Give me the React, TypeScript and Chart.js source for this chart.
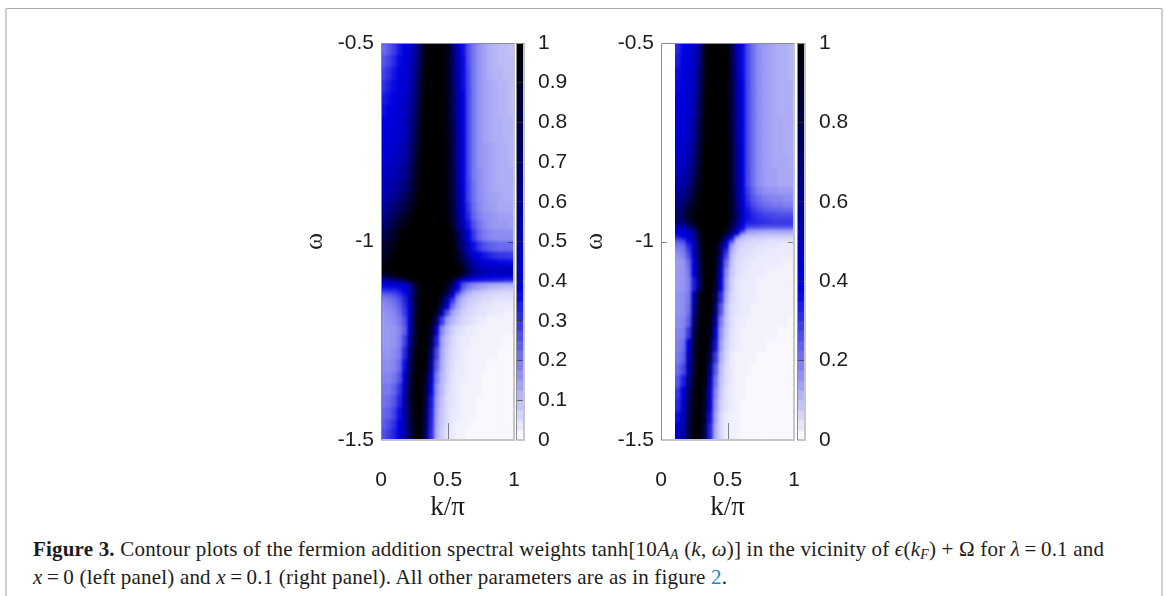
import React, { useEffect, useRef } from "react";
import { Chart, registerables } from "chart.js";

Chart.register(...registerables);

const kLeft = [0.02, 0.06, 0.1, 0.14, 0.18, 0.22, 0.26, 0.3, 0.34, 0.38, 0.42, 0.46, 0.5, 0.54, 0.58, 0.62, 0.66, 0.7, 0.74, 0.78, 0.82, 0.86, 0.9, 0.94, 0.98];
const kRight = [0.1285, 0.169, 0.2095, 0.25, 0.2905, 0.331, 0.3715, 0.412, 0.4525, 0.493, 0.5335, 0.574, 0.6145, 0.655, 0.6955, 0.736, 0.7765, 0.817, 0.8575, 0.898, 0.9385, 0.979];
const omegaLeft = [-0.5, -0.531, -0.562, -0.594, -0.625, -0.656, -0.688, -0.719, -0.751, -0.782, -0.814, -0.845, -0.877, -0.902, -0.927, -0.948, -0.97, -1.0, -1.026, -1.046, -1.061, -1.073, -1.083, -1.093, -1.103, -1.113, -1.123, -1.133, -1.143, -1.156, -1.172, -1.189, -1.212, -1.237, -1.267, -1.298, -1.328, -1.358, -1.388, -1.419, -1.449, -1.474, -1.5];
const omegaRight = [-0.5, -0.531, -0.562, -0.594, -0.625, -0.656, -0.688, -0.719, -0.751, -0.782, -0.814, -0.839, -0.864, -0.883, -0.902, -0.915, -0.927, -0.938, -0.948, -0.96, -0.97, -0.978, -0.985, -0.993, -1.0, -1.008, -1.018, -1.031, -1.046, -1.066, -1.091, -1.126, -1.156, -1.187, -1.217, -1.247, -1.278, -1.308, -1.338, -1.368, -1.398, -1.429, -1.459, -1.5];

// tanh[10 A_A(k, w)], in percent, one row per omega band
const weightsLeft = [
  [22, 25, 29, 35, 39, 44, 56, 78, 96, 100, 100, 100, 93, 72, 50, 36, 26, 20, 16, 14, 12, 11, 10, 10, 9],
  [25, 28, 32, 37, 41, 46, 59, 81, 97, 100, 100, 100, 93, 73, 51, 37, 26, 20, 16, 14, 12, 11, 10, 10, 10],
  [28, 31, 35, 38, 42, 48, 62, 84, 98, 100, 100, 100, 93, 74, 52, 37, 27, 20, 16, 14, 12, 11, 11, 10, 10],
  [31, 34, 37, 40, 44, 50, 65, 87, 98, 100, 100, 100, 93, 75, 52, 37, 27, 20, 16, 14, 13, 12, 11, 11, 10],
  [34, 36, 39, 41, 46, 53, 68, 89, 99, 100, 100, 100, 94, 76, 53, 38, 27, 20, 16, 14, 13, 12, 11, 11, 10],
  [36, 38, 40, 42, 47, 56, 71, 91, 99, 100, 100, 100, 94, 77, 54, 38, 27, 20, 16, 14, 13, 12, 11, 11, 10],
  [38, 39, 41, 43, 49, 59, 74, 93, 100, 100, 100, 100, 94, 78, 55, 38, 27, 20, 16, 14, 13, 12, 12, 11, 11],
  [39, 40, 42, 45, 51, 62, 78, 94, 100, 100, 100, 100, 95, 79, 56, 38, 27, 20, 16, 14, 13, 12, 12, 11, 11],
  [41, 42, 44, 47, 53, 66, 81, 96, 100, 100, 100, 100, 95, 80, 56, 38, 27, 20, 16, 15, 14, 13, 12, 12, 11],
  [43, 45, 47, 50, 56, 69, 84, 97, 100, 100, 100, 100, 95, 81, 57, 38, 27, 20, 16, 15, 14, 13, 12, 12, 11],
  [46, 48, 51, 55, 60, 73, 87, 98, 100, 100, 100, 100, 95, 82, 58, 39, 27, 20, 17, 15, 14, 13, 12, 12, 12],
  [49, 52, 56, 60, 66, 78, 90, 99, 100, 100, 100, 100, 96, 82, 59, 40, 28, 21, 17, 15, 14, 13, 12, 12, 12],
  [53, 56, 61, 67, 74, 84, 93, 100, 100, 100, 100, 100, 96, 83, 60, 41, 28, 21, 17, 16, 14, 14, 13, 12, 12],
  [58, 62, 68, 75, 82, 90, 96, 100, 100, 100, 100, 100, 96, 84, 62, 42, 30, 22, 18, 16, 15, 14, 13, 13, 13],
  [63, 68, 75, 83, 90, 95, 99, 100, 100, 100, 100, 100, 97, 86, 65, 44, 32, 23, 19, 17, 16, 15, 14, 14, 14],
  [70, 75, 82, 90, 95, 99, 100, 100, 100, 100, 100, 100, 98, 88, 68, 48, 35, 26, 21, 18, 16, 15, 15, 15, 14],
  [78, 83, 90, 96, 99, 100, 100, 100, 100, 100, 100, 100, 100, 96, 78, 58, 40, 30, 23, 20, 18, 17, 17, 17, 17],
  [85, 90, 96, 99, 100, 100, 100, 100, 100, 100, 100, 100, 100, 98, 84, 65, 47, 36, 30, 26, 24, 23, 22, 22, 22],
  [90, 94, 98, 100, 100, 100, 100, 100, 100, 100, 100, 100, 100, 99, 90, 74, 56, 43, 38, 35, 33, 31, 30, 30, 29],
  [94, 97, 99, 100, 100, 100, 100, 100, 100, 100, 100, 100, 100, 100, 94, 82, 66, 52, 44, 41, 39, 38, 37, 37, 37],
  [96, 98, 100, 100, 100, 100, 100, 100, 100, 100, 100, 100, 100, 100, 98, 90, 72, 58, 50, 47, 46, 46, 46, 46, 46],
  [95, 97, 99, 100, 100, 100, 100, 100, 100, 100, 100, 100, 100, 100, 98, 92, 78, 66, 58, 54, 51, 50, 50, 50, 50],
  [82, 86, 92, 97, 100, 100, 100, 100, 100, 100, 100, 100, 100, 100, 96, 78, 58, 47, 44, 42, 41, 41, 40, 40, 40],
  [58, 60, 64, 72, 82, 92, 98, 100, 100, 100, 100, 100, 100, 90, 62, 42, 38, 37, 36, 35, 35, 34, 34, 33, 33],
  [40, 40, 41, 43, 46, 62, 88, 98, 100, 100, 100, 98, 92, 70, 40, 27, 21, 18, 16, 15, 14, 14, 13, 13, 13],
  [35, 36, 36, 37, 40, 55, 85, 98, 100, 100, 100, 98, 90, 65, 40, 25, 19, 16, 14, 12, 11, 10, 10, 9, 9],
  [28, 29, 30, 33, 38, 50, 80, 97, 100, 100, 100, 96, 82, 52, 32, 18, 13, 10, 9, 8, 7, 7, 6, 6, 6],
  [22, 23, 25, 29, 34, 55, 85, 99, 100, 100, 100, 90, 66, 38, 20, 13, 10, 8, 7, 6, 6, 5, 5, 5, 5],
  [19, 20, 22, 26, 33, 52, 84, 99, 100, 100, 99, 84, 54, 30, 16, 10, 8, 7, 6, 5, 5, 4, 4, 4, 4],
  [17, 18, 20, 24, 31, 48, 84, 99, 100, 100, 98, 72, 40, 22, 13, 9, 7, 6, 5, 4, 4, 3, 3, 3, 3],
  [16, 17, 18, 22, 29, 46, 86, 99, 100, 100, 90, 52, 26, 14, 10, 7, 6, 5, 4, 4, 3, 3, 3, 2, 2],
  [15, 16, 17, 20, 26, 46, 90, 100, 100, 98, 68, 30, 15, 11, 8, 6, 5, 4, 3, 3, 2, 2, 2, 2, 2],
  [15, 15, 16, 18, 24, 48, 88, 100, 100, 88, 46, 18, 11, 7, 5, 4, 3, 3, 2, 2, 2, 2, 2, 2, 2],
  [15, 15, 16, 19, 28, 56, 92, 100, 99, 80, 34, 14, 9, 6, 4, 3, 3, 2, 2, 2, 2, 2, 2, 1, 1],
  [16, 16, 17, 20, 32, 66, 95, 100, 98, 70, 28, 13, 8, 5, 4, 3, 2, 2, 2, 2, 2, 2, 1, 1, 1],
  [17, 17, 18, 22, 36, 74, 97, 100, 95, 58, 24, 12, 7, 5, 3, 3, 2, 2, 2, 2, 1, 1, 1, 1, 1],
  [18, 18, 20, 25, 42, 80, 98, 100, 90, 46, 20, 11, 7, 4, 3, 3, 2, 2, 2, 1, 1, 1, 1, 1, 1],
  [20, 20, 23, 30, 48, 84, 99, 100, 84, 38, 17, 10, 6, 4, 3, 2, 2, 2, 2, 1, 1, 1, 1, 1, 1],
  [21, 22, 25, 33, 52, 84, 99, 100, 78, 35, 15, 9, 5, 4, 3, 2, 2, 2, 1, 1, 1, 1, 1, 1, 1],
  [23, 24, 28, 36, 53, 82, 99, 99, 74, 34, 14, 8, 5, 3, 3, 2, 2, 2, 1, 1, 1, 1, 1, 1, 1],
  [24, 27, 31, 38, 54, 78, 98, 99, 72, 33, 13, 8, 5, 3, 2, 2, 2, 1, 1, 1, 1, 1, 1, 1, 1],
  [26, 29, 33, 40, 55, 76, 97, 98, 70, 32, 12, 7, 4, 3, 2, 2, 1, 1, 1, 1, 1, 1, 1, 1, 1],
];

// the same
const weightsRight = [
  [32, 38, 41, 45, 62, 92, 100, 100, 100, 99, 82, 52, 37, 27, 21, 17, 15, 14, 13, 12, 12, 11],
  [34, 39, 41, 46, 64, 93, 100, 100, 100, 99, 82, 53, 37, 27, 21, 17, 15, 14, 13, 12, 12, 11],
  [36, 40, 42, 47, 67, 94, 100, 100, 100, 99, 83, 54, 37, 27, 21, 17, 15, 14, 13, 12, 12, 11],
  [37, 40, 43, 49, 70, 95, 100, 100, 100, 99, 83, 55, 38, 27, 21, 17, 15, 14, 13, 12, 12, 12],
  [38, 41, 43, 51, 73, 96, 100, 100, 100, 99, 84, 56, 38, 27, 21, 17, 15, 14, 13, 12, 12, 12],
  [39, 41, 44, 54, 76, 97, 100, 100, 100, 99, 84, 57, 38, 27, 21, 17, 15, 14, 13, 12, 12, 12],
  [40, 42, 45, 57, 79, 98, 100, 100, 100, 99, 85, 58, 39, 27, 21, 17, 15, 14, 13, 13, 12, 12],
  [41, 42, 46, 60, 82, 98, 100, 100, 100, 99, 85, 59, 39, 27, 21, 17, 15, 14, 13, 13, 12, 12],
  [42, 44, 48, 63, 85, 99, 100, 100, 100, 99, 86, 60, 39, 27, 21, 17, 15, 14, 13, 13, 12, 12],
  [45, 47, 52, 68, 88, 99, 100, 100, 100, 99, 86, 60, 39, 27, 21, 17, 15, 14, 13, 13, 13, 12],
  [48, 51, 57, 74, 91, 100, 100, 100, 100, 99, 86, 60, 39, 27, 21, 17, 15, 14, 14, 13, 13, 13],
  [52, 55, 62, 80, 93, 100, 100, 100, 100, 99, 87, 61, 40, 27, 21, 17, 15, 14, 14, 13, 13, 13],
  [56, 60, 69, 86, 96, 100, 100, 100, 100, 99, 88, 62, 41, 29, 23, 19, 17, 16, 16, 15, 15, 15],
  [60, 65, 75, 90, 97, 100, 100, 100, 100, 99, 89, 64, 42, 31, 25, 22, 20, 19, 18, 18, 17, 17],
  [64, 70, 82, 94, 98, 100, 100, 100, 100, 100, 90, 66, 44, 33, 27, 24, 22, 21, 20, 20, 19, 19],
  [67, 74, 86, 96, 99, 100, 100, 100, 100, 100, 90, 68, 46, 35, 30, 27, 25, 24, 23, 23, 22, 22],
  [69, 77, 90, 97, 100, 100, 100, 100, 100, 100, 90, 69, 47, 36, 32, 30, 28, 27, 27, 26, 26, 26],
  [68, 76, 88, 96, 100, 100, 100, 100, 100, 100, 89, 68, 46, 36, 33, 31, 30, 29, 28, 28, 28, 28],
  [64, 70, 82, 95, 100, 100, 100, 100, 100, 100, 84, 62, 40, 34, 33, 32, 31, 31, 30, 30, 30, 30],
  [50, 52, 62, 78, 97, 100, 100, 100, 100, 98, 84, 56, 37, 27, 26, 26, 25, 25, 25, 25, 25, 25],
  [40, 42, 46, 62, 92, 100, 100, 100, 100, 90, 68, 47, 32, 16, 15, 14, 14, 13, 13, 13, 13, 13],
  [38, 40, 44, 58, 90, 100, 100, 100, 100, 88, 60, 40, 16, 13, 12, 11, 11, 11, 11, 11, 11, 11],
  [34, 38, 42, 56, 88, 100, 100, 100, 92, 70, 42, 20, 11, 9, 8, 8, 8, 7, 7, 7, 7, 7],
  [27, 30, 38, 52, 86, 100, 100, 100, 88, 55, 32, 10, 8, 7, 6, 6, 6, 5, 5, 5, 5, 5],
  [23, 26, 36, 50, 84, 100, 100, 100, 82, 48, 22, 9, 7, 6, 5, 5, 5, 4, 4, 4, 4, 4],
  [20, 22, 32, 48, 84, 100, 100, 98, 66, 38, 14, 8, 6, 5, 5, 4, 4, 4, 4, 3, 3, 3],
  [18, 20, 29, 46, 82, 100, 100, 96, 70, 32, 12, 7, 5, 5, 4, 4, 4, 3, 3, 3, 3, 3],
  [16, 18, 26, 43, 80, 99, 100, 95, 62, 28, 10, 6, 5, 4, 4, 3, 3, 3, 3, 3, 3, 3],
  [15, 16, 22, 39, 78, 99, 100, 94, 56, 22, 9, 5, 4, 4, 3, 3, 3, 3, 3, 3, 2, 2],
  [15, 16, 20, 38, 76, 98, 100, 90, 48, 18, 8, 5, 4, 3, 3, 3, 3, 2, 2, 2, 2, 2],
  [15, 16, 19, 34, 70, 98, 100, 86, 40, 15, 7, 4, 3, 3, 3, 2, 2, 2, 2, 2, 2, 2],
  [16, 17, 20, 50, 92, 100, 100, 80, 32, 12, 6, 4, 3, 3, 3, 2, 2, 2, 2, 2, 2, 2],
  [16, 17, 21, 58, 94, 100, 100, 70, 26, 10, 5, 4, 3, 3, 2, 2, 2, 2, 2, 2, 2, 2],
  [17, 18, 24, 66, 96, 100, 96, 54, 20, 9, 5, 3, 3, 2, 2, 2, 2, 2, 2, 2, 2, 1],
  [18, 19, 30, 76, 98, 100, 92, 44, 16, 8, 4, 3, 2, 2, 2, 2, 2, 2, 2, 1, 1, 1],
  [19, 21, 40, 84, 99, 100, 86, 36, 14, 7, 4, 3, 2, 2, 2, 2, 2, 1, 1, 1, 1, 1],
  [20, 23, 46, 86, 100, 100, 78, 30, 12, 6, 3, 2, 2, 2, 2, 1, 1, 1, 1, 1, 1, 1],
  [22, 27, 52, 88, 100, 98, 64, 25, 10, 5, 3, 2, 2, 2, 1, 1, 1, 1, 1, 1, 1, 1],
  [25, 34, 62, 92, 100, 96, 52, 21, 9, 5, 3, 2, 2, 1, 1, 1, 1, 1, 1, 1, 1, 1],
  [29, 40, 70, 94, 100, 92, 44, 18, 8, 4, 3, 2, 2, 1, 1, 1, 1, 1, 1, 1, 1, 1],
  [32, 44, 75, 95, 100, 88, 40, 16, 7, 4, 3, 2, 1, 1, 1, 1, 1, 1, 1, 1, 1, 1],
  [36, 48, 78, 96, 100, 84, 36, 14, 6, 3, 2, 2, 1, 1, 1, 1, 1, 1, 1, 1, 1, 1],
  [42, 54, 80, 96, 100, 78, 33, 12, 6, 3, 2, 2, 1, 1, 1, 1, 1, 1, 1, 1, 1, 1],
];

const colorbarLevels = [0, 0.025, 0.05, 0.075, 0.1, 0.125, 0.15, 0.175, 0.2, 0.225, 0.25, 0.275, 0.3, 0.325, 0.35, 0.375, 0.4, 0.425, 0.45, 0.475, 0.5, 0.525, 0.55, 0.575, 0.6, 0.625, 0.65, 0.675, 0.7, 0.725, 0.75, 0.775, 0.8, 0.825, 0.85, 0.875, 0.9, 0.925, 0.95, 0.975, 1];
const kTicks = [0, 0.5, 1];
const omegaTicks = [-1.5, -1, -0.5];
const colorbarTicksLeft = [0, 0.1, 0.2, 0.3, 0.4, 0.5, 0.6, 0.7, 0.8, 0.9, 1];
const colorbarTicksRight = [0, 0.2, 0.4, 0.6, 0.8, 1];

const SANS = "'Liberation Sans', Arial, sans-serif";
const SERIF = "'Liberation Serif', 'Times New Roman', serif";

function paletteColor(v: number): string {
  const pivot = 0.38;
  if (v <= pivot) {
    const t = v / pivot;
    const c = Math.round(255 * (1 - t));
    return `rgb(${c},${c},${Math.round(255 - 30 * t)})`;
  }
  const t = (v - pivot) / (1 - pivot);
  return `rgb(0,0,${Math.round(225 * (1 - t))})`;
}

function heatCells(ks: number[], omegas: number[], rows: number[][]) {
  const cells: { x: number; y: [number, number] }[] = [];
  const colors: string[] = [];
  rows.forEach((row, r) => {
    row.forEach((pct, c) => {
      cells.push({ x: ks[c], y: [omegas[r + 1], omegas[r]] });
      colors.push(paletteColor(pct / 100));
    });
  });
  return { cells, colors };
}

const smoothPlugin = {
  id: "smoothHeat",
  afterDatasetsDraw(chart: any) {
    const { ctx, canvas, chartArea, scales } = chart;
    const ks: number[] = chart.options.plugins.smoothHeat.ks;
    const halfStep = (ks[1] - ks[0]) / 2;
    const x = Math.round(Math.max(chartArea.left, scales.x.getPixelForValue(ks[0] - halfStep)));
    const y = Math.round(chartArea.top);
    const w = Math.round(chartArea.right) - x;
    const h = Math.round(chartArea.bottom) - y;
    const m = 8;
    const tmp = document.createElement("canvas");
    tmp.width = w + 2 * m;
    tmp.height = h + 2 * m;
    const t = tmp.getContext("2d")!;
    t.drawImage(canvas, x, y, w, h, m, m, w, h);
    t.drawImage(tmp, m, m, w, 1, m, 0, w, m);
    t.drawImage(tmp, m, m + h - 1, w, 1, m, m + h, w, m);
    t.drawImage(tmp, m, 0, 1, h + 2 * m, 0, 0, m, h + 2 * m);
    t.drawImage(tmp, m + w - 1, 0, 1, h + 2 * m, m + w, 0, m, h + 2 * m);
    ctx.save();
    ctx.beginPath();
    ctx.rect(x, y, w, h);
    ctx.clip();
    ctx.filter = "blur(1.8px)";
    ctx.drawImage(tmp, x - m, y - m);
    ctx.restore();
  },
};

const framePlugin = {
  id: "plotFrame",
  afterDraw(chart: any) {
    const { ctx, chartArea: a, scales } = chart;
    const inner = chart.options.plugins.plotFrame;
    ctx.save();
    if (inner.ticks) {
      ctx.globalCompositeOperation = "multiply";
      ctx.strokeStyle = "#8c8c8c";
      ctx.lineWidth = 1;
      ctx.beginPath();
      const px = Math.round(scales.x.getPixelForValue(kTicks[1])) + 0.5;
      ctx.moveTo(px, a.bottom);
      ctx.lineTo(px, a.bottom - 17);
      ctx.moveTo(px, a.top);
      ctx.lineTo(px, a.top + 17);
      const py = Math.round(scales.y.getPixelForValue(omegaTicks[1])) + 0.5;
      ctx.moveTo(a.left, py);
      ctx.lineTo(a.left + 6, py);
      ctx.moveTo(a.right, py);
      ctx.lineTo(a.right - 6, py);
      ctx.stroke();
      ctx.globalCompositeOperation = "source-over";
    }
    ctx.strokeStyle = "#c6c6c6";
    ctx.lineWidth = 2;
    ctx.beginPath();
    ctx.moveTo(a.left, a.bottom);
    ctx.lineTo(a.right, a.bottom);
    ctx.lineTo(a.right, a.top);
    ctx.stroke();
    ctx.strokeStyle = "#8c8c8c";
    ctx.lineWidth = 1;
    ctx.beginPath();
    ctx.moveTo(a.left + 0.5, a.bottom);
    ctx.lineTo(a.left + 0.5, a.top + 0.5);
    ctx.lineTo(a.right, a.top + 0.5);
    ctx.stroke();
    ctx.restore();
  },
};

function fixedTicks(values: number[]) {
  return (scale: any) => {
    scale.ticks = values.map((value) => ({ value }));
  };
}

function fitBox(size: { width?: number; height?: number }) {
  return (s: any) => {
    if (size.width !== undefined) s.width = size.width;
    if (size.height !== undefined) s.height = size.height;
    s.paddingLeft = 0;
    s.paddingRight = 0;
    s.paddingTop = 0;
    s.paddingBottom = 0;
  };
}

function makeHeat(canvas: HTMLCanvasElement, ks: number[], omegas: number[], rows: number[][]) {
  const { cells, colors } = heatCells(ks, omegas, rows);
  return new Chart(canvas, {
    type: "bar",
    data: {
      datasets: [
        {
          data: cells as any,
          backgroundColor: colors,
          borderWidth: 0,
          grouped: false,
          categoryPercentage: 1,
          barPercentage: 1,
        } as any,
      ],
    },
    options: {
      animation: false,
      responsive: false,
      devicePixelRatio: 1,
      events: [],
      layout: { autoPadding: false, padding: { left: 0, top: 13, right: 26, bottom: 0 } },
      plugins: {
        legend: { display: false },
        tooltip: { enabled: false },
        smoothHeat: { ks },
        plotFrame: { ticks: true },
      } as any,
      scales: {
        x: {
          type: "linear",
          min: 0,
          max: 1,
          offset: false,
          afterBuildTicks: fixedTicks(kTicks),
          afterFit: fitBox({ height: 84 }),
          grid: { display: false, offset: false, drawTicks: false },
          border: { display: false },
          ticks: {
            color: "#1c1c1c",
            padding: 28,
            maxRotation: 0,
            autoSkip: false,
            font: { family: SANS, size: 21 },
            callback: (v: any) => String(v),
          },
          title: {
            display: true,
            text: "k/π",
            color: "#1c1c1c",
            font: { family: SERIF, size: 27 },
            padding: { top: 0, bottom: 0 },
          },
        },
        y: {
          type: "linear",
          min: -1.5,
          max: -0.5,
          afterBuildTicks: fixedTicks(omegaTicks),
          afterFit: fitBox({ width: 81 }),
          grid: { display: false, drawTicks: false },
          border: { display: false },
          ticks: {
            color: "#1c1c1c",
            padding: 7,
            autoSkip: false,
            font: { family: SANS, size: 21 },
            callback: (v: any) => String(v),
          },
          title: {
            display: true,
            text: "ω",
            color: "#1c1c1c",
            font: { family: SERIF, size: 26 },
            padding: { top: 0, bottom: 0 },
          },
        },
      },
    } as any,
    plugins: [smoothPlugin, framePlugin],
  } as any);
}

function makeColorbar(canvas: HTMLCanvasElement, ticks: number[]) {
  const cells = colorbarLevels.slice(1).map((hi, i) => ({ x: "cb", y: [colorbarLevels[i], hi] }));
  const colors = colorbarLevels.slice(1).map((hi, i) => paletteColor((hi + colorbarLevels[i]) / 2));
  return new Chart(canvas, {
    type: "bar",
    data: {
      labels: ["cb"],
      datasets: [
        {
          data: cells as any,
          backgroundColor: colors,
          borderWidth: 0,
          grouped: false,
          categoryPercentage: 1,
          barPercentage: 1,
        } as any,
      ],
    },
    options: {
      animation: false,
      responsive: false,
      devicePixelRatio: 1,
      events: [],
      layout: { autoPadding: false, padding: { left: 6, top: 13, right: 0, bottom: 80 } },
      plugins: {
        legend: { display: false },
        tooltip: { enabled: false },
        plotFrame: { ticks: false },
      } as any,
      scales: {
        x: { display: false },
        y: {
          type: "linear",
          position: "right",
          min: 0,
          max: 1,
          afterBuildTicks: fixedTicks(ticks),
          afterFit: fitBox({ width: 76 }),
          grid: { display: true, z: 1, drawTicks: false, color: "rgba(50,50,50,0.65)" },
          border: { display: false },
          ticks: {
            color: "#1c1c1c",
            padding: 14,
            autoSkip: false,
            font: { family: SANS, size: 21 },
            callback: (v: any) => String(v),
          },
        },
      },
    } as any,
    plugins: [framePlugin],
  } as any);
}

const canvasStyle = (left: number, top: number): React.CSSProperties => ({ position: "absolute", left, top });

export default function App() {
  const heatA = useRef<HTMLCanvasElement>(null);
  const heatB = useRef<HTMLCanvasElement>(null);
  const barA = useRef<HTMLCanvasElement>(null);
  const barB = useRef<HTMLCanvasElement>(null);

  useEffect(() => {
    document.body.style.margin = "0";
    const charts = [
      makeHeat(heatA.current!, kLeft, omegaLeft, weightsLeft),
      makeHeat(heatB.current!, kRight, omegaRight, weightsRight),
      makeColorbar(barA.current!, colorbarTicksLeft),
      makeColorbar(barB.current!, colorbarTicksRight),
    ];
    return () => charts.forEach((c) => c.destroy());
  }, []);

  const captionLine: React.CSSProperties = {
    position: "absolute",
    left: 33,
    whiteSpace: "nowrap",
    fontFamily: SERIF,
    fontSize: 21,
    letterSpacing: 0.19,
    color: "#1c1c1c",
    lineHeight: "24px",
  };
  const sub: React.CSSProperties = { fontSize: 14, verticalAlign: "-3px", lineHeight: 0 };

  return (
    <div style={{ position: "fixed", left: 0, top: 0, width: 1165, height: 596, overflow: "hidden", background: "#fff" }}>
      <div style={{ position: "absolute", left: 5, top: 8, width: 1158, height: 1, background: "#a8a8a8" }} />
      <div style={{ position: "absolute", left: 5, top: 8, width: 2, height: 588, background: "#cfcfcf" }} />
      <div style={{ position: "absolute", left: 1161, top: 8, width: 2, height: 588, background: "#cfcfcf" }} />

      <canvas ref={heatA} width={240} height={494} style={canvasStyle(300, 30)} />
      <canvas ref={barA} width={90} height={490} style={canvasStyle(510, 30)} />
      <canvas ref={heatB} width={240} height={494} style={canvasStyle(580, 30)} />
      <canvas ref={barB} width={90} height={490} style={canvasStyle(791, 30)} />

      <div style={{ ...captionLine, top: 537 }}>
        <b>Figure 3.</b> Contour plots of the fermion addition spectral weights tanh[10<i>A</i>
        <i style={sub}>A</i> (<i>k</i>, <i>ω</i>)] in the vicinity of <i>ϵ</i>(<i>k</i>
        <i style={sub}>F</i>) + Ω for <i>λ</i>{"\u2009=\u2009"}0.1 and
      </div>
      <div style={{ ...captionLine, top: 565 }}>
        <i>x</i>{"\u2009=\u2009"}0 (left panel) and <i>x</i>{"\u2009=\u2009"}0.1 (right panel). All other parameters are as in figure{" "}
        <span style={{ color: "#1b87c4" }}>2</span>.
      </div>
    </div>
  );
}
